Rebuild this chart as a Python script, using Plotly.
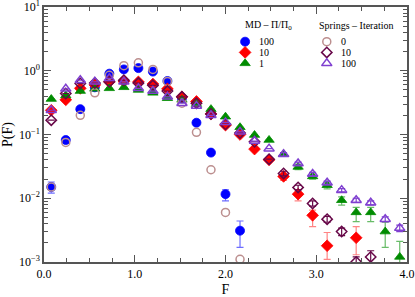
import plotly.graph_objects as go

F = [0.08, 0.24, 0.40, 0.56, 0.72, 0.88, 1.04, 1.20, 1.36, 1.52, 1.68, 1.84, 2.00,
     2.16, 2.32, 2.48, 2.64, 2.80, 2.96, 3.12, 3.28, 3.44, 3.60, 3.76, 3.92]

N = None
md_100 = [0.015, 0.082, 0.25, 0.55, 0.90, 1.05, 1.10, 0.97, 0.69, 0.37, 0.153, 0.052, 0.0116,
          0.0031, N, N, N, N, N, N, N, N, N, N, N]
md_100_err_p = [0.003, 0.006, 0, 0, 0, 0, 0, 0, 0, 0, 0, 0, 0.002, 0.0013] + [0] * 11
md_100_err_m = [0.003, 0.006, 0, 0, 0, 0, 0, 0, 0, 0, 0, 0, 0.0025, 0.0014] + [0] * 11

md_10 = [0.24, 0.35, 0.53, 0.60, 0.67, 0.68, 0.67, 0.62, 0.52, 0.39, 0.33, 0.21, 0.14,
         0.10, 0.059, 0.040, 0.022, 0.0116, 0.0054, 0.0018, N, 0.0024, N, N, N]
md_10_err_p = [0] * 16 + [0.002, 0.002, 0.0011, 0.0011, 0, 0.0012, 0, 0, 0]
md_10_err_m = [0] * 16 + [0.003, 0.0025, 0.0018, 0.0007, 0, 0.0011, 0, 0, 0]

md_1 = [0.36, 0.41, 0.48, 0.52, 0.53, 0.55, 0.50, 0.45, 0.37, 0.35, 0.30, 0.25, 0.19,
        0.13, 0.098, 0.082, 0.049, 0.031, 0.022, 0.016, 0.0093, 0.0060, 0.0060, 0.0030, 0.0012]
md_1_err_p = [0] * 17 + [0.003, 0.002, 0.002, 0.0012, 0.0012, 0.0012, 0.0012, 0.0009]
md_1_err_m = [0] * 17 + [0.003, 0.002, 0.002, 0.0015, 0.0017, 0.0017, 0.0013, 0.0008]

sp_0 = [0.015, 0.075, 0.20, 0.45, 0.85, 1.20, 1.33, 1.05, 0.68, 0.31, 0.108, 0.028, 0.0060,
        0.0011, N, N, N, N, N, N, N, N, N, N, N]

sp_10 = [0.168, 0.44, 0.63, 0.64, 0.67, 0.71, 0.64, 0.59, 0.48, 0.39, 0.31, 0.21, 0.145,
         0.106, 0.077, 0.041, 0.0245, 0.0148, 0.0083, 0.0047, 0.0030, 0.0010, 0.0012, N, N]
sp_10_err = [0] * 16 + [0.002, 0.0012, 0.0008, 0.0005, 0.0004, 0.0002, 0.0003, 0, 0]

sp_100 = [0.24, 0.52, 0.71, 0.67, 0.76, 0.67, 0.53, 0.48, 0.39, 0.31, 0.28, 0.20, 0.155,
          0.11, 0.079, 0.060, 0.049, 0.035, 0.024, 0.0175, 0.0134, 0.0093, 0.0085, 0.0047, 0.0034]
sp_100_err = [0] * 16 + [0.003, 0.002, 0.0015, 0.001, 0.0008, 0.0007, 0.0006, 0.0004, 0.0004]

md_labels = ["100", "10", "1"]
sp_labels = ["0", "10", "100"]

x_ticks = [0, 1, 2, 3, 4]
x_ticktext = ["0.0", "1.0", "2.0", "3.0", "4.0"]
y_ticks = [0.001, 0.01, 0.1, 1, 10]
y_ticktext = ["10<sup>−3</sup>", "10<sup>−2</sup>", "10<sup>−1</sup>", "10<sup>0</sup>", "10<sup>1</sup>"]

BLUE = "#0000FF"
RED = "#FF0000"
GREEN = "#008B00"
PINK = "#BC8F8F"
MAROON = "#670748"
INDIGO = "#7F3FD0"

FONT = "Liberation Serif"

fig = go.Figure()


def add(y, color, symbol, size, err_p=None, err_m=None, open_=False, ecolor=None):
    marker = dict(symbol=symbol, size=size, color=color,
                  line=dict(color=color, width=1.5 if open_ else 0.8))
    err = None
    if err_p is not None:
        err = dict(type="data", array=err_p, arrayminus=err_m if err_m is not None else err_p,
                   visible=True, color=ecolor or color, thickness=1.2, width=3.5)
    fig.add_trace(go.Scatter(x=F, y=y, mode="markers", marker=marker, error_y=err,
                             showlegend=False))


add(md_100, BLUE, "circle", 9, md_100_err_p, md_100_err_m, ecolor="rgba(60,60,255,0.75)")
add(md_10, RED, "diamond", 9, md_10_err_p, md_10_err_m, ecolor="rgba(255,80,80,0.7)")
add(md_1, GREEN, "triangle-up", 9, md_1_err_p, md_1_err_m, ecolor="rgba(40,160,40,0.7)")
add(sp_0, PINK, "circle-open", 8, open_=True)
add(sp_10, MAROON, "diamond-open", 8, sp_10_err, open_=True)
add(sp_100, INDIGO, "triangle-up-open", 9, sp_100_err, open_=True)

# legend keys on an overlay axis (0..1 box)
leg_x_md, leg_x_sp = 0.554, 0.779
leg_y = [0.864, 0.822, 0.779]
md_styles = [(BLUE, "circle", 9), (RED, "diamond", 9), (GREEN, "triangle-up", 9)]
sp_styles = [(PINK, "circle-open", 8), (MAROON, "diamond-open", 8), (INDIGO, "triangle-up-open", 9)]
for i, (c, s, sz) in enumerate(md_styles):
    fig.add_trace(go.Scatter(x=[leg_x_md], y=[leg_y[i]], mode="markers", xaxis="x2", yaxis="y2",
                             marker=dict(symbol=s, size=sz, color=c, line=dict(color=c, width=0.8)),
                             showlegend=False, hoverinfo="skip"))
for i, (c, s, sz) in enumerate(sp_styles):
    fig.add_trace(go.Scatter(x=[leg_x_sp], y=[leg_y[i]], mode="markers", xaxis="x2", yaxis="y2",
                             marker=dict(symbol=s, size=sz, color=c, line=dict(color=c, width=1.5)),
                             showlegend=False, hoverinfo="skip"))

annotations = [
    dict(text="MD – Π/Π<sub>0</sub>", x=0.548, y=0.929, xanchor="left", yanchor="middle"),
    dict(text="Springs – Iteration", x=0.751, y=0.929, xanchor="left", yanchor="middle"),
]
for i, t in enumerate(md_labels):
    annotations.append(dict(text=t, x=0.588, y=leg_y[i], xanchor="left", yanchor="middle"))
for i, t in enumerate(sp_labels):
    annotations.append(dict(text=t, x=0.813, y=leg_y[i], xanchor="left", yanchor="middle"))
for a in annotations:
    a.update(xref="paper", yref="paper", showarrow=False,
             font=dict(family=FONT, size=10, color="black"))

axis_common = dict(showline=True, linecolor="#555555", linewidth=1.5, mirror="allticks",
                   ticks="inside", tickcolor="#555555", showgrid=False, zeroline=False,
                   automargin=False, ticklabeloverflow="allow",
                   tickfont=dict(family=FONT, size=12, color="black"))

fig.update_layout(
    width=415, height=297,
    margin=dict(l=44, r=8, t=7, b=35),
    paper_bgcolor="white", plot_bgcolor="white",
    font=dict(family=FONT, color="black"),
    xaxis=dict(range=[0, 4], tickmode="array", tickvals=x_ticks, ticktext=x_ticktext,
               ticklen=7, tickwidth=1.2,
               minor=dict(tickmode="linear", tick0=0, dtick=0.25, ticks="inside", ticklen=4,
                          tickcolor="#555555", showgrid=False),
               title=dict(text="F", font=dict(family=FONT, size=14), standoff=4),
               **axis_common),
    yaxis=dict(type="log", range=[-3, 1], tickmode="array", tickvals=y_ticks, ticktext=y_ticktext,
               ticklen=7, tickwidth=1.2,
               minor=dict(tickmode="array",
                          tickvals=[m * 10 ** e for e in range(-3, 1) for m in range(2, 10)],
                          ticks="inside", ticklen=4, tickcolor="#555555", showgrid=False),
               title=dict(text="P(F)", font=dict(family=FONT, size=14), standoff=4),
               **axis_common),
    xaxis2=dict(overlaying="x", range=[0, 1], visible=False),
    yaxis2=dict(overlaying="y", range=[0, 1], visible=False),
    annotations=annotations,
)

fig.write_html("out.html", config={"displayModeBar": False},
               post_script="document.body.style.margin='0';document.body.style.overflow='hidden';")
